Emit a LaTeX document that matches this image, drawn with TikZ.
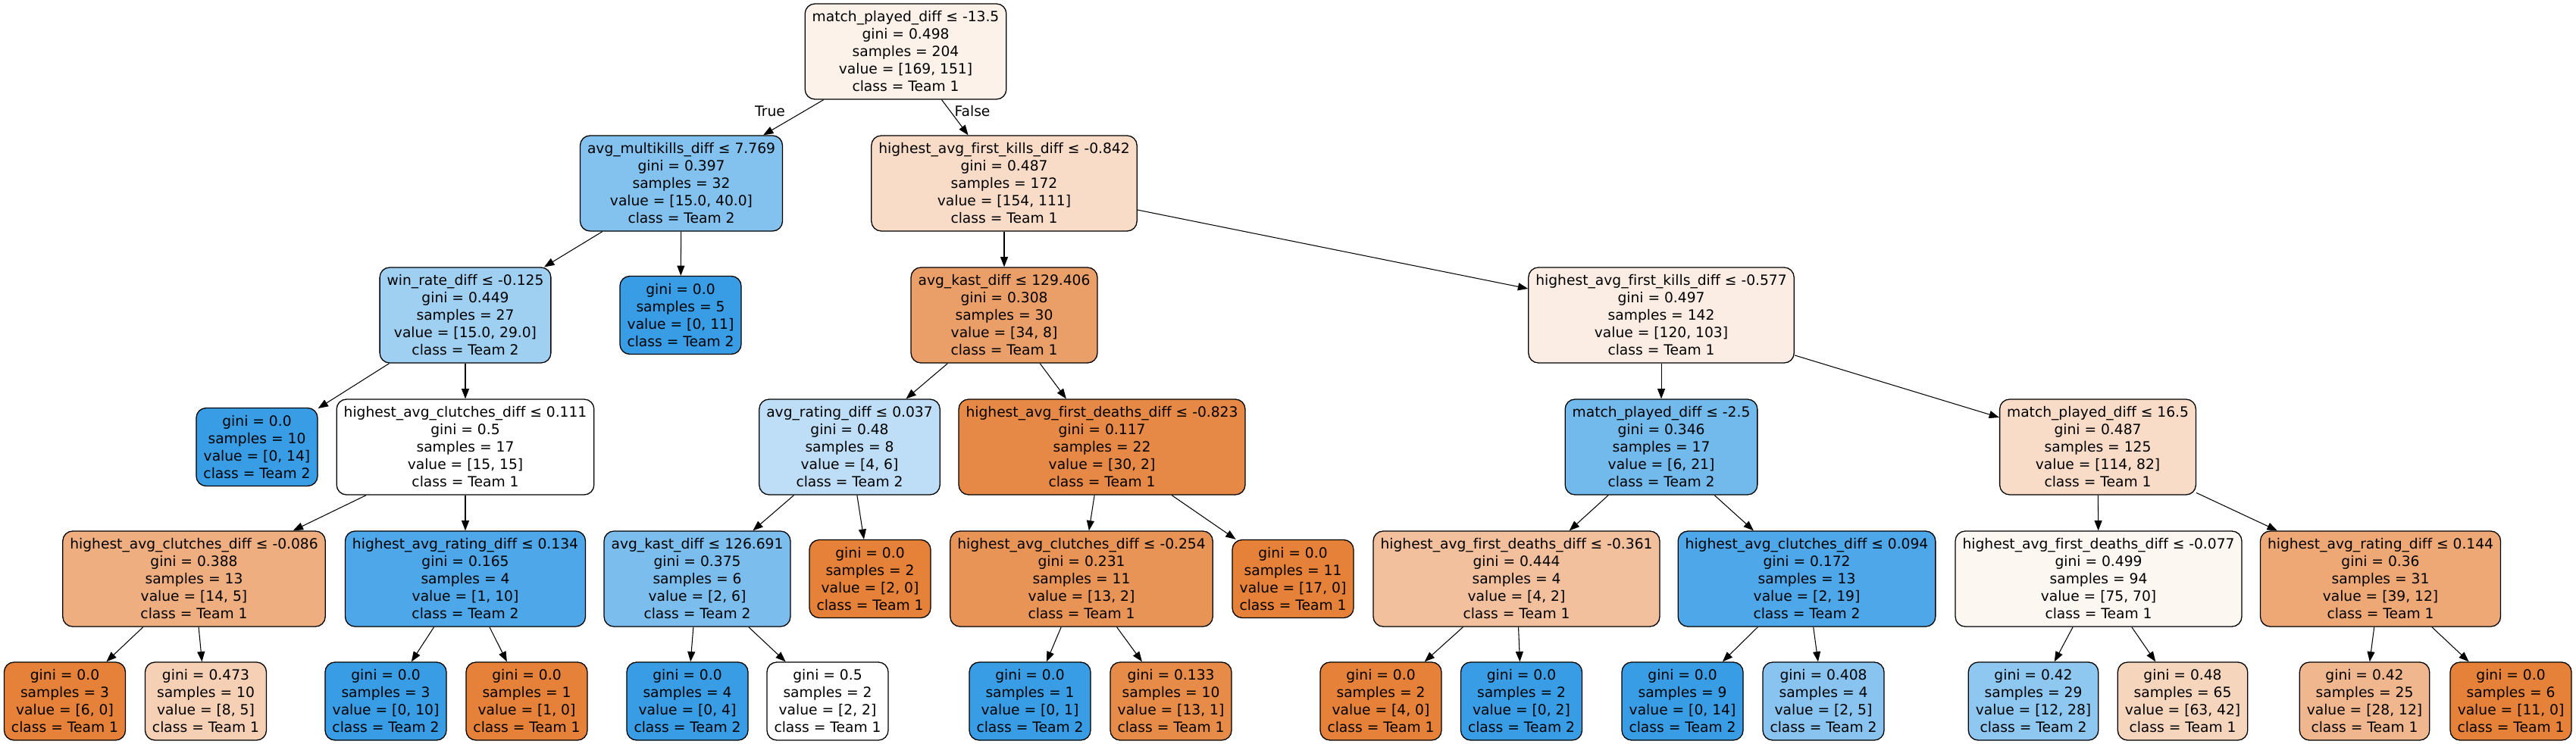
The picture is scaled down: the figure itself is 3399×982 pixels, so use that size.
\documentclass[tikz,border=0pt]{standalone}
\usepackage{fontspec}
\setmainfont[Ligatures=NoCommon]{DejaVu Sans}
\usetikzlibrary{arrows.meta}
\definecolor{tA}{RGB}{229,129,57}
\definecolor{tB}{RGB}{57,157,229}
\tikzset{
  box/.style={draw=black, line width=1.3pt, rounded corners=13pt, align=center,
    font=\fontsize{18.67}{23}\selectfont, inner xsep=9.5pt, inner ysep=0pt},
  inode/.style={box, minimum height=126pt},
  leaf/.style={box, minimum height=103pt},
  edge/.style={line width=1.05pt, -{Triangle[length=13.3pt,width=10pt]}},
  elabel/.style={font=\fontsize{18.67}{23}\selectfont, inner sep=0pt}
}
\begin{document}
\begin{tikzpicture}[x=1pt,y=-1pt]
\fill[white] (0,0) rectangle (3399,982);
\useasboundingbox (0,0) rectangle (3399,982);
% level 0
\node[inode, fill=tA!10.7!white] (n0) at (1195,68) {match\_played\_diff ≤ -13.5\\gini = 0.498\\samples = 204\\value = [169, 151]\\class = Team 1};
% level 1
\node[inode, fill=tB!62.5!white] (n1) at (899,242) {avg\_multikills\_diff ≤ 7.769\\gini = 0.397\\samples = 32\\value = [15.0, 40.0]\\class = Team 2};
\node[inode, fill=tA!27.9!white] (n2) at (1325,242) {highest\_avg\_first\_kills\_diff ≤ -0.842\\gini = 0.487\\samples = 172\\value = [154, 111]\\class = Team 1};
% level 2
\node[inode, fill=tB!48.3!white] (n3) at (614,416) {win\_rate\_diff ≤ -0.125\\gini = 0.449\\samples = 27\\value = [15.0, 29.0]\\class = Team 2};
\node[leaf, fill=tB] (n4) at (898,416) {gini = 0.0\\samples = 5\\value = [0, 11]\\class = Team 2};
\node[inode, fill=tA!76.5!white] (n5) at (1325,416) {avg\_kast\_diff ≤ 129.406\\gini = 0.308\\samples = 30\\value = [34, 8]\\class = Team 1};
\node[inode, fill=tA!14.2!white] (n6) at (2192,416) {highest\_avg\_first\_kills\_diff ≤ -0.577\\gini = 0.497\\samples = 142\\value = [120, 103]\\class = Team 1};
% level 3
\node[leaf, fill=tB] (n7) at (339,590) {gini = 0.0\\samples = 10\\value = [0, 14]\\class = Team 2};
\node[inode, fill=white] (n8) at (614,590) {highest\_avg\_clutches\_diff ≤ 0.111\\gini = 0.5\\samples = 17\\value = [15, 15]\\class = Team 1};
\node[inode, fill=tB!33.3!white] (n9) at (1121,590) {avg\_rating\_diff ≤ 0.037\\gini = 0.48\\samples = 8\\value = [4, 6]\\class = Team 2};
\node[inode, fill=tA!93.3!white] (n10) at (1454,590) {highest\_avg\_first\_deaths\_diff ≤ -0.823\\gini = 0.117\\samples = 22\\value = [30, 2]\\class = Team 1};
\node[inode, fill=tB!71.4!white] (n11) at (2192,590) {match\_played\_diff ≤ -2.5\\gini = 0.346\\samples = 17\\value = [6, 21]\\class = Team 2};
\node[inode, fill=tA!28.1!white] (n12) at (2768,590) {match\_played\_diff ≤ 16.5\\gini = 0.487\\samples = 125\\value = [114, 82]\\class = Team 1};
% level 4
\node[inode, fill=tA!64.3!white] (n13) at (256,764) {highest\_avg\_clutches\_diff ≤ -0.086\\gini = 0.388\\samples = 13\\value = [14, 5]\\class = Team 1};
\node[inode, fill=tB!90!white] (n14) at (614,764) {highest\_avg\_rating\_diff ≤ 0.134\\gini = 0.165\\samples = 4\\value = [1, 10]\\class = Team 2};
\node[inode, fill=tB!66.7!white] (n15) at (920,764) {avg\_kast\_diff ≤ 126.691\\gini = 0.375\\samples = 6\\value = [2, 6]\\class = Team 2};
\node[leaf, fill=tA] (n16) at (1148,764) {gini = 0.0\\samples = 2\\value = [2, 0]\\class = Team 1};
\node[inode, fill=tA!84.6!white] (n17) at (1427,764) {highest\_avg\_clutches\_diff ≤ -0.254\\gini = 0.231\\samples = 11\\value = [13, 2]\\class = Team 1};
\node[leaf, fill=tA] (n18) at (1706,764) {gini = 0.0\\samples = 11\\value = [17, 0]\\class = Team 1};
\node[inode, fill=tA!50!white] (n19) at (2001,764) {highest\_avg\_first\_deaths\_diff ≤ -0.361\\gini = 0.444\\samples = 4\\value = [4, 2]\\class = Team 1};
\node[inode, fill=tB!89.5!white] (n20) at (2384,764) {highest\_avg\_clutches\_diff ≤ 0.094\\gini = 0.172\\samples = 13\\value = [2, 19]\\class = Team 2};
\node[inode, fill=tA!6.7!white] (n21) at (2769,764) {highest\_avg\_first\_deaths\_diff ≤ -0.077\\gini = 0.499\\samples = 94\\value = [75, 70]\\class = Team 1};
\node[inode, fill=tA!69.2!white] (n22) at (3141,764) {highest\_avg\_rating\_diff ≤ 0.144\\gini = 0.36\\samples = 31\\value = [39, 12]\\class = Team 1};
% level 5
\node[leaf, fill=tA] (l1) at (85.5,925.5) {gini = 0.0\\samples = 3\\value = [6, 0]\\class = Team 1};
\node[leaf, fill=tA!37.5!white] (l2) at (271.5,925.5) {gini = 0.473\\samples = 10\\value = [8, 5]\\class = Team 1};
\node[leaf, fill=tB] (l3) at (509,925.5) {gini = 0.0\\samples = 3\\value = [0, 10]\\class = Team 2};
\node[leaf, fill=tA] (l4) at (695,925.5) {gini = 0.0\\samples = 1\\value = [1, 0]\\class = Team 1};
\node[leaf, fill=tB] (l5) at (907,925.5) {gini = 0.0\\samples = 4\\value = [0, 4]\\class = Team 2};
\node[leaf, fill=white] (l6) at (1092,925.5) {gini = 0.5\\samples = 2\\value = [2, 2]\\class = Team 1};
\node[leaf, fill=tB] (l7) at (1359,925.5) {gini = 0.0\\samples = 1\\value = [0, 1]\\class = Team 2};
\node[leaf, fill=tA!92.3!white] (l8) at (1545,925.5) {gini = 0.133\\samples = 10\\value = [13, 1]\\class = Team 1};
\node[leaf, fill=tA] (l9) at (1822,925.5) {gini = 0.0\\samples = 2\\value = [4, 0]\\class = Team 1};
\node[leaf, fill=tB] (l10) at (2007.5,925.5) {gini = 0.0\\samples = 2\\value = [0, 2]\\class = Team 2};
\node[leaf, fill=tB] (l11) at (2220,925.5) {gini = 0.0\\samples = 9\\value = [0, 14]\\class = Team 2};
\node[leaf, fill=tB!60!white] (l12) at (2406,925.5) {gini = 0.408\\samples = 4\\value = [2, 5]\\class = Team 2};
\node[leaf, fill=tB!57.1!white] (l13) at (2683,925.5) {gini = 0.42\\samples = 29\\value = [12, 28]\\class = Team 2};
\node[leaf, fill=tA!33.3!white] (l14) at (2880,925.5) {gini = 0.48\\samples = 65\\value = [63, 42]\\class = Team 1};
\node[leaf, fill=tA!57.1!white] (l15) at (3120,925.5) {gini = 0.42\\samples = 25\\value = [28, 12]\\class = Team 1};
\node[leaf, fill=tA] (l16) at (3313,925.5) {gini = 0.0\\samples = 6\\value = [11, 0]\\class = Team 1};
% edges
\draw[edge] (n0) -- (n1);
\draw[edge] (n0) -- (n2);
\node[elabel] (tlab) at (1016,147) {True};
\node[elabel] (flab) at (1283,147) {False};
\draw[edge] (n1) -- (n3);
\draw[edge] (n1) -- (n4);
\draw[edge] (n2) -- (n5);
\draw[edge] (n2) -- (n6);
\draw[edge] (n3) -- (n7);
\draw[edge] (n3) -- (n8);
\draw[edge] (n5) -- (n9);
\draw[edge] (n5) -- (n10);
\draw[edge] (n6) -- (n11);
\draw[edge] (n6) -- (n12);
\draw[edge] (n8) -- (n13);
\draw[edge] (n8) -- (n14);
\draw[edge] (n9) -- (n15);
\draw[edge] (n9) -- (n16);
\draw[edge] (n10) -- (n17);
\draw[edge] (n10) -- (n18);
\draw[edge] (n11) -- (n19);
\draw[edge] (n11) -- (n20);
\draw[edge] (n12) -- (n21);
\draw[edge] (n12) -- (n22);
\draw[edge] (n13) -- (l1);
\draw[edge] (n13) -- (l2);
\draw[edge] (n14) -- (l3);
\draw[edge] (n14) -- (l4);
\draw[edge] (n15) -- (l5);
\draw[edge] (n15) -- (l6);
\draw[edge] (n17) -- (l7);
\draw[edge] (n17) -- (l8);
\draw[edge] (n19) -- (l9);
\draw[edge] (n19) -- (l10);
\draw[edge] (n20) -- (l11);
\draw[edge] (n20) -- (l12);
\draw[edge] (n21) -- (l13);
\draw[edge] (n21) -- (l14);
\draw[edge] (n22) -- (l15);
\draw[edge] (n22) -- (l16);
\end{tikzpicture}
\end{document}
